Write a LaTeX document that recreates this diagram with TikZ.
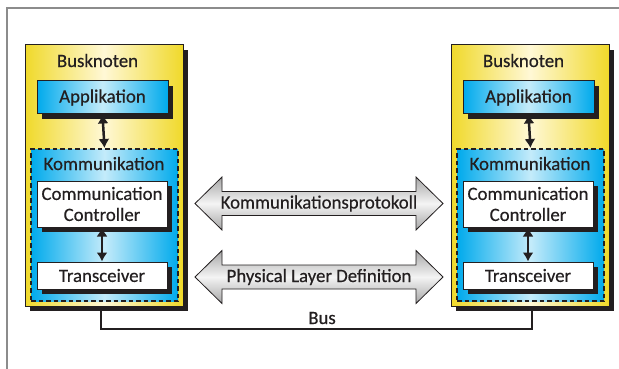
\documentclass[tikz,border=0pt]{standalone}
\usepackage{fontspec}
\setmainfont[FakeBold=0.45]{Carlito}
\usetikzlibrary{shadows,arrows.meta,calc}
\definecolor{ink}{HTML}{231F20}
\definecolor{yelE}{HTML}{F0D92A}
\definecolor{yelM}{HTML}{FFF8D6}
\definecolor{bluE}{HTML}{00AAEC}
\definecolor{bluM}{HTML}{C4EBFA}
\definecolor{frameg}{HTML}{8C8C8C}
\definecolor{arrE}{HTML}{A6A6A6}
\definecolor{arrM}{HTML}{F4F4F4}

\begin{document}
\begin{tikzpicture}[x=1pt,y=-1pt,
  font=\fontsize{18.8}{22}\selectfont, text=ink,
  hardshadow/.style={general shadow={fill=ink, shadow xshift=5pt, shadow yshift=-5pt}},
  nodebox/.style={draw=ink, line width=1pt, left color=yelE, right color=yelE,
    middle color=yelM, minimum width=158pt, minimum height=261pt, hardshadow},
  appbox/.style={draw=ink, line width=1pt, left color=bluE, right color=bluE,
    middle color=bluM, minimum width=131pt, minimum height=33pt, inner sep=0pt, hardshadow},
  kombox/.style={draw=ink, line width=2pt, dash pattern=on 4.5pt off 3pt,
    left color=bluE, right color=bluE, middle color=bluM,
    minimum width=147pt, minimum height=152pt},
  whitebox/.style={draw=ink, line width=1pt, fill=white, minimum width=130pt,
    inner sep=0pt, align=center, hardshadow},
  vlink/.style={draw=ink, line width=2.5pt,
    {Latex[length=9pt,width=11pt]}-{Latex[length=9pt,width=11pt]}},
  bigarrow/.style={draw=ink, line width=0.8pt, top color=arrE, bottom color=arrE,
    middle color=arrM},
  busline/.style={draw=ink, line width=1.2pt}
]
\useasboundingbox (0,0) rectangle (619,369);

% page frame
\draw[frameg, line width=1.3pt] (7,369) -- (7,8) -- (619,8);

% bus wiring between the two nodes
\coordinate (busL) at (101,329);
\coordinate (busR) at (532,329);

% the two bus nodes
\foreach \p/\dx in {L/0, R/426} {
  \node[nodebox] (\p-outer) at (104+\dx,175.5) {};
  \node[anchor=base] (\p-title) at (97.5+\dx,67) {Busknoten};
  \node[appbox] (\p-app) at (102.5+\dx,97.5) {Applikation};
  \node[kombox] (\p-kom) at (104.5+\dx,225) {};
  \node[anchor=base] (\p-komtitle) at (104+\dx,170) {Kommunikation};
  \node[whitebox, minimum height=46pt] (\p-cc) at (102+\dx,204)
    {Communication\\[-1pt]Controller};
  \node[whitebox, minimum height=27pt] (\p-tr) at (102+\dx,275.5) {Transceiver};
  \draw[vlink] (\p-app.south) -- (\p-kom.north);
  \draw[vlink] (\p-cc.south) -- (\p-tr.north);
}

\draw[busline] (L-outer.south -| busL) -- (busL) -- (busR) -- (R-outer.south -| busR);
\node[anchor=base] (bus) at (322,324) {Bus};

% protocol arrows between the nodes
\coordinate (protoC) at (319,203.5);
\coordinate (physC) at (319,277);
\foreach \c in {protoC, physC} {
  \path[bigarrow] ($(\c)+(-124,0)$) -- ++(27,-26.5) -- ++(0,14.5) -- ++(194,0)
    -- ++(0,-14.5) -- ++(27,26.5) -- ++(-27,26.5) -- ++(0,-14.5) -- ++(-194,0)
    -- ++(0,14.5) -- cycle;
}
\node (proto) at (protoC) {Kommunikationsprotokoll};
\node (phys) at (physC) {Physical Layer Definition};
\end{tikzpicture}
\end{document}
